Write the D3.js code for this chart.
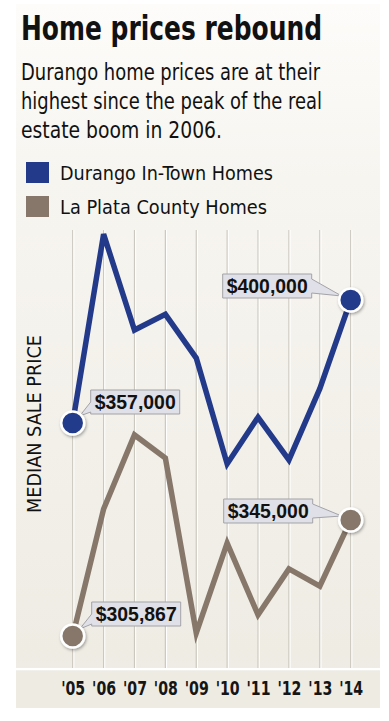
<!DOCTYPE html>
<head>
<meta charset="utf-8">
<title>Home prices rebound</title>
<style>
   body {
		   margin: 0;
		   background: #ffffff;
   }
   svg text {
		   fill: #111111;
   }
</style>
</head>
<body>
<div id="chartDiv"></div>

<script src="https://d3js.org/d3.v7.min.js"></script>
<script>

   var years = [2005, 2006, 2007, 2008, 2009, 2010, 2011, 2012, 2013, 2014];
   var yearLabels = ["'05", "'06", "'07", "'08", "'09", "'10", "'11", "'12", "'13", "'14"];
   var durango = [357000, 423000, 389500, 395000, 379700, 342700, 359000, 344100, 369000, 400000];
   var laPlata = [305867, 348700, 373700, 365900, 306900, 337200, 313000, 328500, 322700, 345000];
   var seriesNames = ["Durango In-Town Homes", "La Plata County Homes"];
   var seriesColors = ["#233a8b", "#86776a"];
   var subtitle = ["Durango home prices are at their",
                   "highest since the peak of the real",
                   "estate boom in 2006."];

   var width = 389, height = 721;
   var narrow = "'Liberation Sans Narrow', 'DejaVu Sans Condensed', 'Roboto Condensed', sans-serif";

   var svg = d3.select("#chartDiv")
	 .append("svg")
	   .attr("width", width)
	   .attr("height", height);

   var defs = svg.append("defs");
   var grad = defs.append("linearGradient")
	   .attr("id", "panelGrad")
	   .attr("x1", 0).attr("y1", 0).attr("x2", 0).attr("y2", 1);
   grad.append("stop").attr("offset", "0%").attr("stop-color", "#fdfcfa");
   grad.append("stop").attr("offset", "25%").attr("stop-color", "#f7f5f0");
   grad.append("stop").attr("offset", "100%").attr("stop-color", "#eeebe3");

   var shadow = defs.append("filter").attr("id", "shadow")
	   .attr("x", "-50%").attr("y", "-50%").attr("width", "200%").attr("height", "200%");
   shadow.append("feDropShadow")
	   .attr("dx", 1).attr("dy", 1.5).attr("stdDeviation", 1.5)
	   .attr("flood-color", "#000").attr("flood-opacity", 0.35);

   //	Panel

   svg.append("rect")
	   .attr("x", 16).attr("y", 4)
	   .attr("width", 364).attr("height", 704)
	   .attr("fill", "url(#panelGrad)");

   //	Scales

   var x = d3.scaleLinear()
	   .domain([2005, 2014])
	   .range([72.7, 350.7]);

   var yDurango = d3.scaleLinear()
	   .domain([357000, 400000])
	   .range([423, 300]);

   var yLaPlata = d3.scaleLinear()
	   .domain([305867, 345000])
	   .range([636, 520]);

   var plotTop = 230, plotBottom = 668;

   //	Grid

   var grid = svg.append("g");
   grid.selectAll("line.g1")
	   .data(years)
	   .enter().append("line")
	   .attr("class", "g1")
	   .attr("x1", function(d) { return x(d); })
	   .attr("x2", function(d) { return x(d); })
	   .attr("y1", plotTop).attr("y2", plotBottom)
	   .attr("stroke", "#cbc8bf").attr("stroke-width", 1.2);
   grid.selectAll("line.g2")
	   .data(years)
	   .enter().append("line")
	   .attr("class", "g2")
	   .attr("x1", function(d) { return x(d) + 1.2; })
	   .attr("x2", function(d) { return x(d) + 1.2; })
	   .attr("y1", plotTop).attr("y2", plotBottom)
	   .attr("stroke", "#ffffff").attr("stroke-width", 1);

   // axis band
   svg.append("rect")
	   .attr("x", 16).attr("y", plotBottom)
	   .attr("width", 364).attr("height", 2.5)
	   .attr("fill", "#ffffff");
   svg.append("rect")
	   .attr("x", 16).attr("y", plotBottom + 2.5)
	   .attr("width", 364).attr("height", 708 - plotBottom - 2.5)
	   .attr("fill", "#eeebe3");

   var xAxis = d3.axisBottom(x)
	   .tickValues(years)
	   .tickSize(0)
	   .tickPadding(0)
	   .tickFormat(function(d, i) { return yearLabels[i]; });

   var ax = svg.append("g")
	   .attr("transform", "translate(0,681)")
	   .call(xAxis);
   ax.select(".domain").remove();
   ax.selectAll("text")
	   .attr("dy", "0.71em")
	   .attr("textLength", 24)
	   .attr("lengthAdjust", "spacingAndGlyphs")
	   .style("font-family", narrow)
	   .style("font-size", "19.5px")
	   .style("font-weight", "bold")
	   .style("fill", "#151515");

   //	Lines

   var series = [
	   { name: seriesNames[0], values: durango, y: yDurango, color: seriesColors[0] },
	   { name: seriesNames[1], values: laPlata, y: yLaPlata, color: seriesColors[1] }
   ];

   series.forEach(function(s) {
	   var line = d3.line()
		   .x(function(d, i) { return x(years[i]); })
		   .y(function(d) { return s.y(d); });
	   svg.append("path")
		   .datum(s.values)
		   .attr("d", line)
		   .attr("fill", "none")
		   .attr("stroke", s.color)
		   .attr("stroke-width", 5.5)
		   .attr("stroke-linejoin", "miter")
		   .attr("stroke-linecap", "butt");
   });

   //	Callouts

   var callouts = [
	   { s: 0, i: 9, side: "left", dx: -128, dy: -26 },
	   { s: 0, i: 0, side: "right", dx: 18, dy: -33 },
	   { s: 1, i: 9, side: "left", dx: -127, dy: -21 },
	   { s: 1, i: 0, side: "right", dx: 19, dy: -34 }
   ];

   var fmt = d3.format("$,");

   callouts.forEach(function(c) {
	   var s = series[c.s];
	   var px = x(years[c.i]), py = s.y(s.values[c.i]);
	   var bw = 89, bh = 24;
	   var bx = px + c.dx, by = py + c.dy;
	   var pts;
	   if (c.side == "left") {
		   pts = [[bx, by], [bx + bw, by], [bx + bw, by + 5], [px - 9, py - 4],
				  [bx + bw, by + bh - 5], [bx + bw, by + bh], [bx, by + bh]];
	   } else {
		   pts = [[bx, by], [bx + bw, by], [bx + bw, by + bh], [bx, by + bh],
				  [bx, by + bh - 2], [px + 7, py - 7], [bx, by + bh - 12]];
	   }
	   svg.append("path")
		   .attr("d", "M" + pts.join("L") + "Z")
		   .attr("fill", "#dfe0e8")
		   .attr("stroke", "#a3a3a8")
		   .attr("stroke-width", 1);
	   svg.append("text")
		   .attr("x", bx + bw / 2)
		   .attr("y", by + bh / 2)
		   .attr("dy", "0.36em")
		   .attr("text-anchor", "middle")
		   .attr("textLength", 81)
		   .attr("lengthAdjust", "spacingAndGlyphs")
		   .style("font-family", "'Liberation Sans', Arial, sans-serif")
		   .style("font-size", "20px")
		   .style("font-weight", "bold")
		   .text(fmt(s.values[c.i]));
   });

   //	End points

   series.forEach(function(s) {
	   var ends = [0, s.values.length - 1];
	   svg.selectAll(null)
		   .data(ends)
		   .enter().append("circle")
		   .attr("cx", function(i) { return x(years[i]); })
		   .attr("cy", function(i) { return s.y(s.values[i]); })
		   .attr("r", 11.5)
		   .attr("fill", s.color)
		   .attr("stroke", "#ffffff")
		   .attr("stroke-width", 2.5)
		   .attr("filter", "url(#shadow)");
   });

   //	Titles

   svg.append("text")
	   .attr("x", 21).attr("y", 40)
	   .attr("textLength", 301)
	   .attr("lengthAdjust", "spacingAndGlyphs")
	   .style("font-family", narrow)
	   .style("font-size", "33px")
	   .style("font-weight", "bold")
	   .text("Home prices rebound");

   var subWidths = [299, 301, 201];
   svg.selectAll("text.sub")
	   .data(subtitle)
	   .enter().append("text")
	   .attr("class", "sub")
	   .attr("x", 21)
	   .attr("y", function(d, i) { return 80 + i * 29; })
	   .attr("textLength", function(d, i) { return subWidths[i]; })
	   .attr("lengthAdjust", "spacingAndGlyphs")
	   .style("font-family", narrow)
	   .style("font-size", "23.5px")
	   .text(function(d) { return d; });

   //	Legend

   var legendWidths = [213, 207];
   var legend = svg.selectAll("g.legend")
	   .data(series)
	   .enter().append("g")
	   .attr("class", "legend")
	   .attr("transform", function(d, i) { return "translate(26," + (162 + i * 34) + ")"; });
   legend.append("rect")
	   .attr("width", 23).attr("height", 21)
	   .attr("fill", function(d) { return d.color; });
   legend.append("text")
	   .attr("x", 34).attr("y", 18)
	   .attr("textLength", function(d, i) { return legendWidths[i]; })
	   .attr("lengthAdjust", "spacingAndGlyphs")
	   .style("font-family", narrow)
	   .style("font-size", "19.5px")
	   .text(function(d) { return d.name; });

   //	Y label

   svg.append("text")
	   .attr("transform", "translate(40.5,424) rotate(-90)")
	   .attr("text-anchor", "middle")
	   .attr("textLength", 178)
	   .attr("lengthAdjust", "spacingAndGlyphs")
	   .style("font-family", narrow)
	   .style("font-size", "20px")
	   .text("MEDIAN SALE PRICE");

</script>
</body>
